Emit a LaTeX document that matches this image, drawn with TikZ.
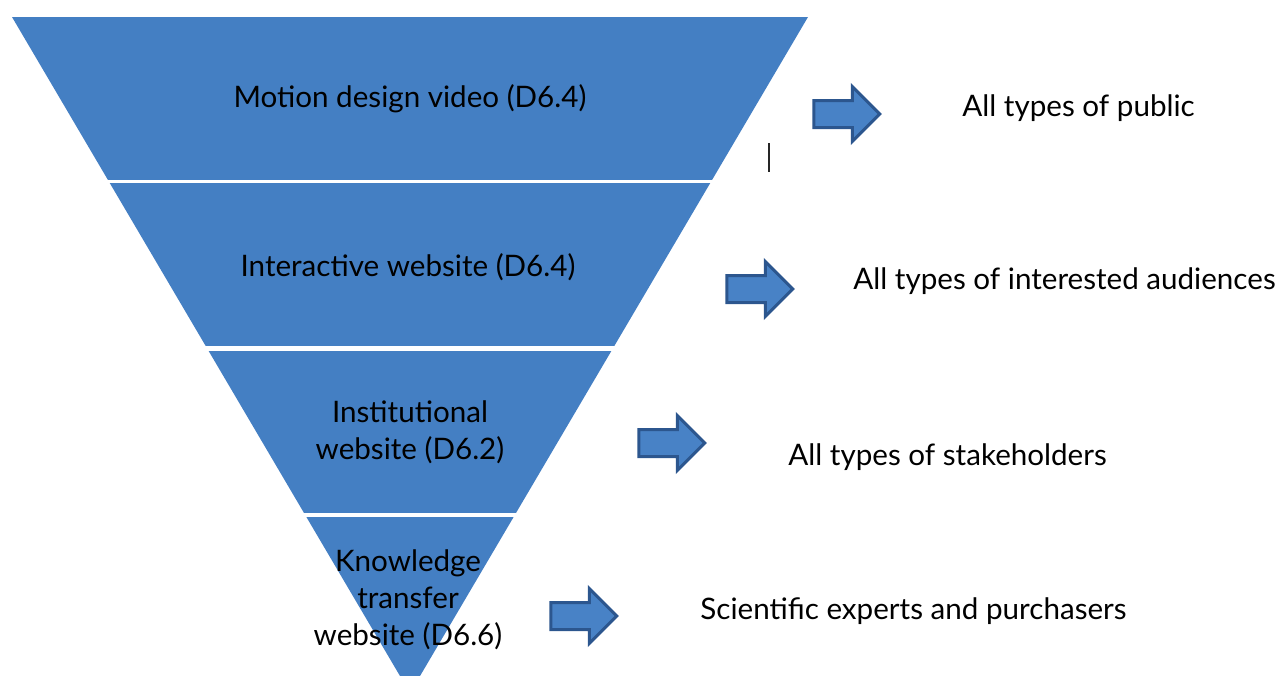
\documentclass[tikz,border=0pt]{standalone}
\usepackage{fontspec}
\setmainfont{Lato}
\usetikzlibrary{shapes.arrows}
\definecolor{funnelblue}{RGB}{68,127,195}
\definecolor{arrowblue}{RGB}{72,130,198}
\definecolor{arrowedge}{RGB}{44,86,142}
\tikzset{
  level/.style={font=\fontsize{14.8}{18.5}\selectfont, align=center, inner sep=0pt},
  target/.style={font=\fontsize{14.8}{18.5}\selectfont, anchor=west, inner sep=0pt},
  pointer/.style={single arrow, draw=arrowedge, fill=arrowblue, line width=1.5pt,
    minimum height=33pt, minimum width=26pt, single arrow head extend=7pt,
    single arrow tip angle=90, inner xsep=0pt, inner ysep=6pt},
}
\begin{document}
\begin{tikzpicture}[x=0.5pt,y=-0.5pt]
%\draw[gray,very thin] (0,0) grid[step=50] (1278,675);
\useasboundingbox (0,0) rectangle (1278,675);
\begin{scope}
\clip (0,0) rectangle (1278,675);
\fill[funnelblue] (12,17) -- (808,17) -- (410,693) -- cycle;
\end{scope}
% gaps between the levels
\draw[white,line width=1.6pt] (90,181.5) -- (740,181.5);
\draw[white,line width=2.2pt] (190,348.5) -- (630,348.5);
\draw[white,line width=2pt] (290,515) -- (530,515);

\node[level] (video) at (410,99) {Motion design video (D6.4)};
\node[level] (site) at (408,267) {Interactive website (D6.4)};
\node[level] (inst) at (410,432) {Institutional\\website (D6.2)};
\node[level] (know) at (408,600) {Knowledge\\transfer\\website (D6.6)};

\node[pointer] (p1) at (840,114) {};
\node[pointer] (p2) at (753,289) {};
\node[pointer] (p3) at (665,443) {};
\node[pointer] (p4) at (577,616) {};

\node[target] (pub) at (962,108) {All types of public};
\node[target] (aud) at (853,281) {All types of interested audiences};
\node[target] (stake) at (788,457) {All types of stakeholders};
\node[target] (expert) at (700,611) {Scientific experts and purchasers};

\draw[black!85,line width=1pt] (769,143) -- (769,172);
\end{tikzpicture}
\end{document}
